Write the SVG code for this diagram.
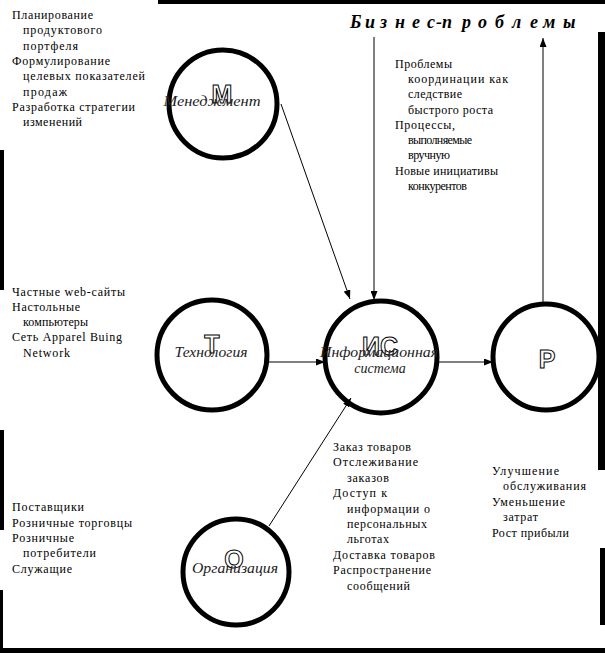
<svg xmlns="http://www.w3.org/2000/svg" width="605" height="653" viewBox="0 0 605 653">
<style>
.t{font-family:"Liberation Serif","Times New Roman",serif;font-size:12px;fill:#000}
.lb{font-family:"Liberation Serif","Times New Roman",serif;font-size:14px;font-style:italic;fill:#222;text-anchor:middle}
.big{font-family:"Liberation Sans",Arial,sans-serif;font-weight:bold;font-size:25px;fill:#fff;stroke:#000;stroke-width:1;text-anchor:middle}
.c{fill:none;stroke:#000;stroke-width:5}
.ln{stroke:#000;stroke-width:1;fill:none}
.bd{fill:#000}
</style>
<defs>
<marker id="ah" markerUnits="userSpaceOnUse" markerWidth="9" markerHeight="7" refX="9" refY="3.5" orient="auto">
<path d="M0,0 L9,3.5 L0,7 z" fill="#000"/>
</marker>
</defs>
<rect width="605" height="653" fill="#fff"/>
<g id="border">
<rect class="bd" x="158" y="0" width="447" height="4"/>
<rect class="bd" x="598" y="32" width="7" height="438"/>
<rect class="bd" x="600" y="548" width="5" height="77"/>
<rect class="bd" x="0" y="648" width="605" height="5"/>
<rect class="bd" x="0" y="150" width="4" height="140"/>
<rect class="bd" x="0" y="430" width="4" height="100"/>
<rect class="bd" x="0" y="590" width="3" height="63"/>
</g>
<g id="connectors">
<line class="ln" x1="281" y1="104" x2="350" y2="299" marker-end="url(#ah)"/>
<line class="ln" x1="374" y1="37" x2="374" y2="300" marker-end="url(#ah)"/>
<line class="ln" x1="543" y1="303" x2="543" y2="38" marker-end="url(#ah)"/>
<line class="ln" x1="267" y1="362" x2="325" y2="362" marker-end="url(#ah)"/>
<line class="ln" x1="437" y1="362" x2="493" y2="362" marker-end="url(#ah)"/>
<line class="ln" x1="269" y1="526" x2="351" y2="398" marker-end="url(#ah)"/>
</g>
<g id="title">
<text x="350 365 380 395 412 427 436 442 462 478 495 512 530 543 563" y="28" font-family="'Liberation Serif','Times New Roman',serif" font-size="18" font-weight="bold" font-style="italic">Бизнес-проблемы</text>
</g>
<g id="node-m">
<circle class="c" cx="223" cy="104" r="54"/>
<text class="big" x="222" y="103">М</text>
<text class="lb" x="212" y="106" textLength="97" lengthAdjust="spacingAndGlyphs">Менеджмент</text>
</g>
<g id="node-t">
<circle class="c" cx="212" cy="355" r="55"/>
<text class="big" x="212" y="353">Т</text>
<text class="lb" x="211" y="357" textLength="73" lengthAdjust="spacingAndGlyphs">Технология</text>
</g>
<g id="node-is">
<circle class="c" cx="381" cy="357" r="56"/>
<text class="big" x="380" y="355">ИС</text>
<text class="lb" x="379" y="357" textLength="118" lengthAdjust="spacingAndGlyphs">Информационная</text>
<text class="lb" x="380" y="373">система</text>
</g>
<g id="node-p">
<circle class="c" cx="546" cy="357" r="53"/>
<text class="big" x="547" y="368">Р</text>
</g>
<g id="node-o">
<circle class="c" cx="236" cy="572" r="53"/>
<text class="big" x="234" y="568">О</text>
<text class="lb" x="235" y="573" textLength="86" lengthAdjust="spacingAndGlyphs">Организация</text>
</g>
<g id="text-management">
<text class="t" x="12" y="19" textLength="81">Планирование</text>
<text class="t" x="23" y="34" textLength="79">продуктового</text>
<text class="t" x="23" y="50" textLength="55">портфеля</text>
<text class="t" x="12" y="65" textLength="98">Формулирование</text>
<text class="t" x="23" y="80" textLength="122">целевых показателей</text>
<text class="t" x="23" y="96" textLength="44">продаж</text>
<text class="t" x="12" y="111" textLength="123">Разработка стратегии</text>
<text class="t" x="23" y="126" textLength="59">изменений</text>
</g>
<g id="text-problems">
<text class="t" x="395" y="68" textLength="57">Проблемы</text>
<text class="t" x="408" y="83" textLength="100">координации как</text>
<text class="t" x="408" y="98" textLength="54">следствие</text>
<text class="t" x="408" y="114" textLength="85">быстрого роста</text>
<text class="t" x="395" y="129" textLength="60">Процессы,</text>
<text class="t" x="408" y="144" textLength="64">выполняемые</text>
<text class="t" x="408" y="159" textLength="42">вручную</text>
<text class="t" x="395" y="175" textLength="103">Новые инициативы</text>
<text class="t" x="408" y="190" textLength="59">конкурентов</text>
</g>
<g id="text-technology">
<text class="t" x="12" y="296" textLength="113">Частные web-сайты</text>
<text class="t" x="12" y="311" textLength="68">Настольные</text>
<text class="t" x="23" y="326" textLength="65">компьютеры</text>
<text class="t" x="12" y="341" textLength="110">Сеть Apparel Buing</text>
<text class="t" x="23" y="357" textLength="47">Network</text>
</g>
<g id="text-is">
<text class="t" x="333" y="451" textLength="78">Заказ товаров</text>
<text class="t" x="333" y="466" textLength="85">Отслеживание</text>
<text class="t" x="347" y="482" textLength="42">заказов</text>
<text class="t" x="333" y="497" textLength="54">Доступ к</text>
<text class="t" x="347" y="513" textLength="83">информации о</text>
<text class="t" x="347" y="528" textLength="80">персональных</text>
<text class="t" x="347" y="543" textLength="42">льготах</text>
<text class="t" x="333" y="559" textLength="102">Доставка товаров</text>
<text class="t" x="333" y="574" textLength="98">Распространение</text>
<text class="t" x="347" y="590" textLength="63">сообщений</text>
</g>
<g id="text-results">
<text class="t" x="492" y="475" textLength="67">Улучшение</text>
<text class="t" x="503" y="490" textLength="83">обслуживания</text>
<text class="t" x="492" y="506" textLength="73">Уменьшение</text>
<text class="t" x="503" y="521" textLength="35">затрат</text>
<text class="t" x="492" y="537" textLength="77">Рост прибыли</text>
</g>
<g id="text-organization">
<text class="t" x="12" y="511" textLength="72">Поставщики</text>
<text class="t" x="12" y="527" textLength="120">Розничные торговцы</text>
<text class="t" x="12" y="542" textLength="62">Розничные</text>
<text class="t" x="23" y="557" textLength="73">потребители</text>
<text class="t" x="12" y="573" textLength="60">Служащие</text>
</g>
</svg>
